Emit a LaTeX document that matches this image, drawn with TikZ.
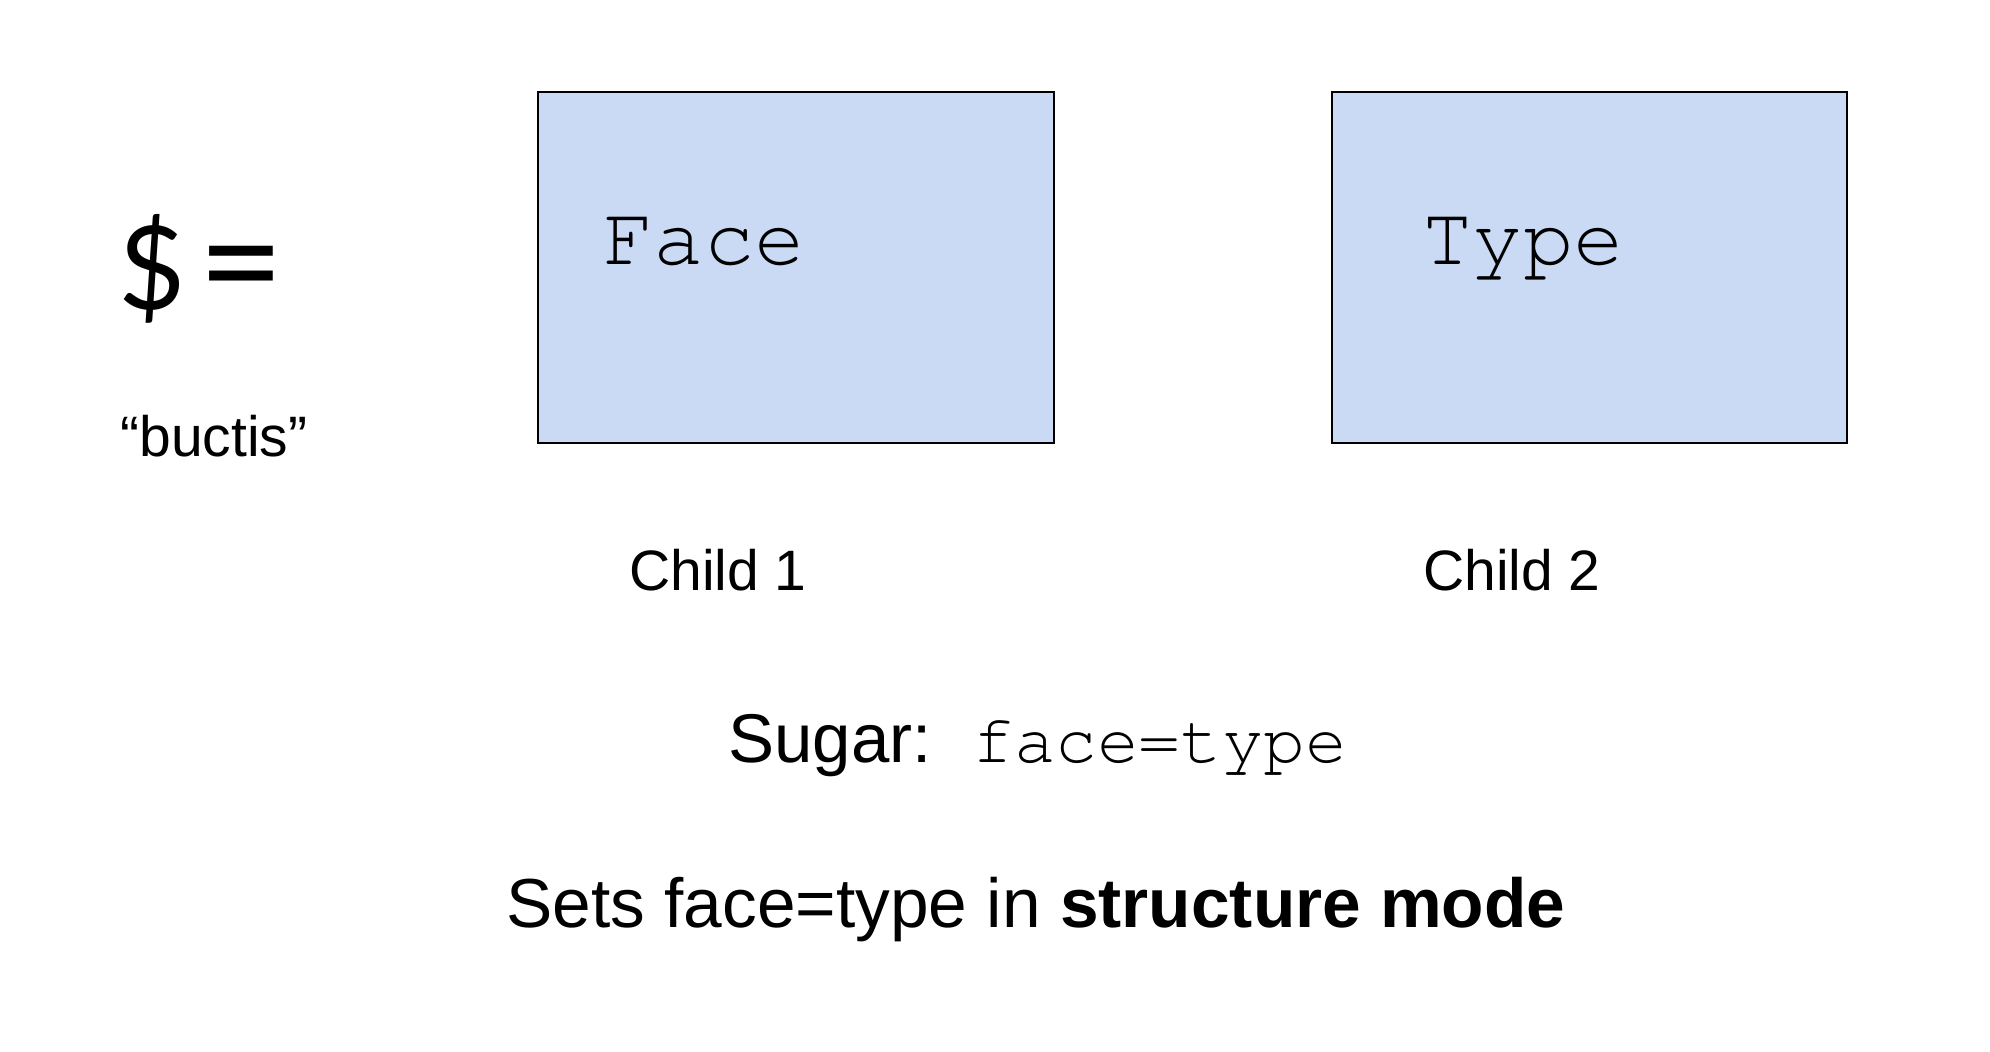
\documentclass[tikz,border=0pt]{standalone}
\usepackage{fontspec}
\setmainfont{Liberation Sans}
\setmonofont{TeX Gyre Cursor}
\newfontfamily\symfont{Lato}
\definecolor{boxfill}{HTML}{CADAF5}
\begin{document}
\begin{tikzpicture}[x=0.5pt,y=-0.5pt,
  childbox/.style={draw=black,line width=1.3pt,fill=boxfill},
  lbl/.style={inner sep=0pt,anchor=base west},
  clbl/.style={inner sep=0pt,anchor=base}]
\useasboundingbox (0,0) rectangle (1990,1052);
\fill[white] (0,0) rectangle (1990,1052);
\draw[childbox] (538,92) rectangle (1054,443);
\draw[childbox] (1332,92) rectangle (1847,443);
\node[lbl,font=\ttfamily\fontsize{42pt}{46pt}\selectfont] (face) at (603,265) {Face};
\node[lbl,font=\ttfamily\fontsize{42pt}{46pt}\selectfont] (type) at (1422,265) {Type};
\node[lbl,font=\symfont\fontsize{58pt}{64pt}\selectfont] (dollar) at (118,310) {\$};
\node[lbl,font=\symfont\fontsize{74pt}{80pt}\selectfont] (eq) at (198,314) {=};
\node[lbl,font=\fontsize{28.5pt}{34pt}\selectfont] (buctis) at (120,457) {“buctis”};
\node[clbl,font=\fontsize{28.5pt}{34pt}\selectfont] (c1) at (718,591) {Child 1};
\node[clbl,font=\fontsize{28.5pt}{34pt}\selectfont] (c2) at (1512,591) {Child 2};
\node[lbl,font=\fontsize{34.5pt}{40pt}\selectfont] (sugar) at (728,762) {Sugar:};
\node[lbl,font=\ttfamily\fontsize{34.7pt}{40pt}\selectfont] (sugarcode) at (972,762) {face=type};
\node[clbl,font=\fontsize{34.7pt}{40pt}\selectfont] (sets) at (1036,927) {Sets face=type in \textbf{structure mode}};
\end{tikzpicture}
\end{document}
